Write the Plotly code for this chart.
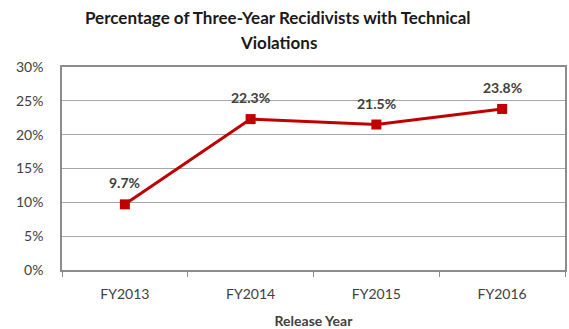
import plotly.graph_objects as go

years = ["FY2013", "FY2014", "FY2015", "FY2016"]
pct = [9.7, 22.3, 21.5, 23.8]
labels = [f"{v}%" for v in pct]
y_ticks = [0, 5, 10, 15, 20, 25, 30]
y_tick_text = [f"{t}%" for t in y_ticks]
title_lines = ["Percentage of Three-Year Recidivists with Technical", "Violations"]

font_family = "Lato, Carlito, Open Sans, sans-serif"
red = "#c00000"
grey = "#8c8c8c"
text_col = "#404040"

fig = go.Figure()
fig.add_trace(go.Scatter(
    x=years, y=pct,
    mode="lines+markers",
    line=dict(color=red, width=3),
    marker=dict(symbol="square", size=10, color=red),
    showlegend=False,
))

# value labels above each point
for yr, v, lab in zip(years, pct, labels):
    fig.add_annotation(
        x=yr, y=v, text=lab, showarrow=False,
        yanchor="bottom", yshift=11,
        font=dict(family=font_family, size=14, color=text_col, weight="bold"),
    )

# two-line title
for i, line in enumerate(title_lines):
    fig.add_annotation(
        xref="paper", yref="paper", x=0.43, y=1.0, yanchor="middle",
        yshift=(67 - 17) - 25 * i, showarrow=False, text=line,
        font=dict(family=font_family, size=17, color="#1a1a1a", weight="bold"),
    )

fig.update_layout(
    width=569, height=329,
    margin=dict(l=62, r=4, t=67, b=59),
    paper_bgcolor="white", plot_bgcolor="white",
    font=dict(family=font_family, size=14, color=text_col),
)
fig.update_xaxes(
    type="category", range=[-0.5, 3.5], automargin=False,
    tickson="boundaries", ticks="outside", ticklen=5, tickcolor=grey,
    showline=True, linecolor=grey, linewidth=1.5, mirror=True,
    showgrid=False, ticklabelstandoff=10,
    title=dict(text="Release Year", font=dict(family=font_family, size=14, color=text_col, weight="bold"), standoff=16),
    tickfont=dict(size=14),
)
fig.update_yaxes(
    range=[0, 30], tickvals=y_ticks, ticktext=y_tick_text, automargin=False,
    showgrid=True, gridcolor="#a6a6a6", gridwidth=1,
    showline=True, linecolor=grey, linewidth=1.5, mirror=True,
    ticks="", ticklabelstandoff=14,
    zeroline=False,
    tickfont=dict(size=14),
)

fig.write_html("out.html")
